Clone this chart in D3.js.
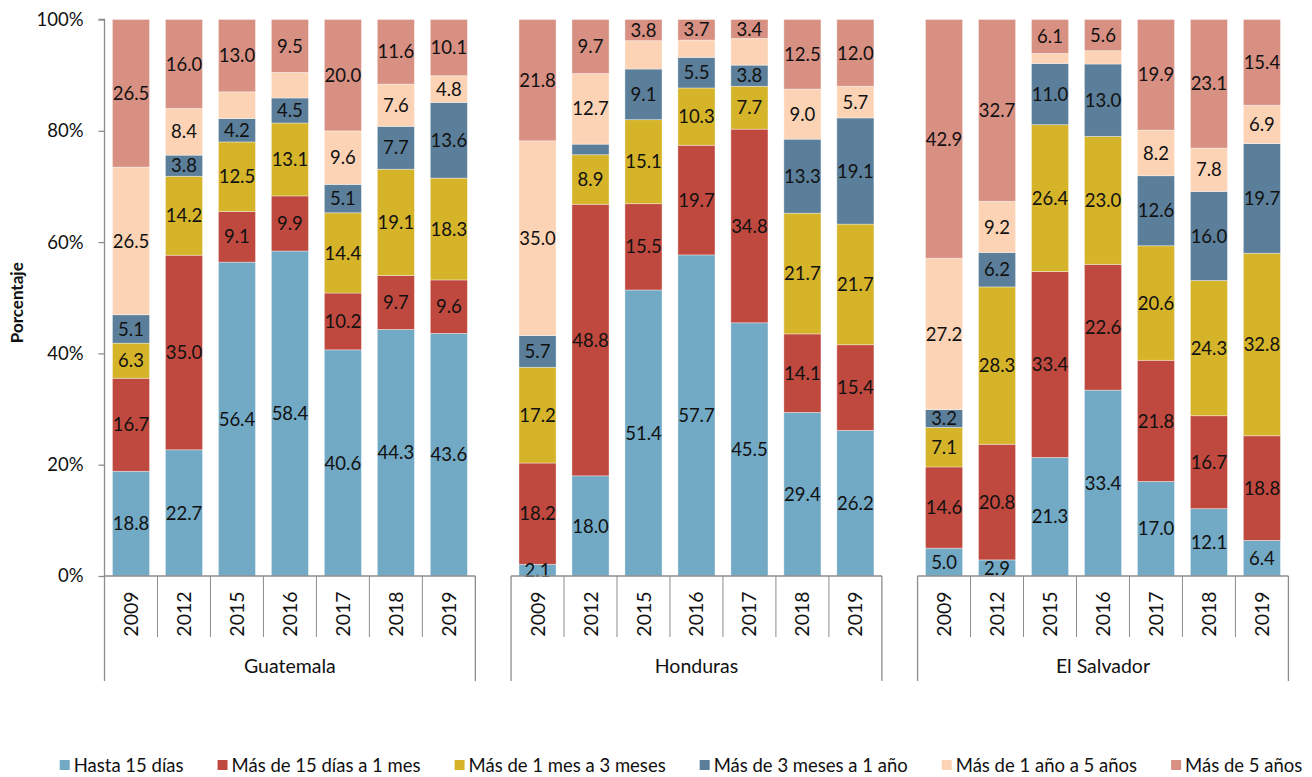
<!DOCTYPE html>
<html>
<head>
<meta charset="utf-8">
<script src="https://cdn.jsdelivr.net/npm/d3@7"></script>
<style>
  html, body { margin: 0; padding: 0; background: #fff; }
  svg { display: block; font-family: Lato, "Open Sans", sans-serif; }
</style>
</head>
<body>
<svg id="chart" width="1312" height="777"></svg>
<script>
// ---- DATA ----
const countries = ["Guatemala", "Honduras", "El Salvador"];
const years = ["2009", "2012", "2015", "2016", "2017", "2018", "2019"];
const seriesNames = ["Hasta 15 días", "Más de 15 días a 1 mes", "Más de 1 mes a 3 meses",
                     "Más de 3 meses a 1 año", "Más de 1 año a 5 años", "Más de 5 años"];
const seriesColors = ["#72a9c5", "#c0493f", "#d5b42a", "#5b7f9a", "#fcd4b5", "#d89083"];
const yTicks = [0, 0.2, 0.4, 0.6, 0.8, 1.0];

// values per series: [Guatemala[], Honduras[], El Salvador[]] across years
const hasta15dias = [
  [18.8, 22.7, 56.4, 58.4, 40.6, 44.3, 43.6],
  [2.1, 18.0, 51.4, 57.7, 45.5, 29.4, 26.2],
  [5.0, 2.9, 21.3, 33.4, 17.0, 12.1, 6.4]
];
const de15diasA1mes = [
  [16.7, 35.0, 9.1, 9.9, 10.2, 9.7, 9.6],
  [18.2, 48.8, 15.5, 19.7, 34.8, 14.1, 15.4],
  [14.6, 20.8, 33.4, 22.6, 21.8, 16.7, 18.8]
];
const de1A3meses = [
  [6.3, 14.2, 12.5, 13.1, 14.4, 19.1, 18.3],
  [17.2, 8.9, 15.1, 10.3, 7.7, 21.7, 21.7],
  [7.1, 28.3, 26.4, 23.0, 20.6, 24.3, 32.8]
];
const de3mesesA1anio = [
  [5.1, 3.8, 4.2, 4.5, 5.1, 7.7, 13.6],
  [5.7, 1.9, 9.1, 5.5, 3.8, 13.3, 19.1],
  [3.2, 6.2, 11.0, 13.0, 12.6, 16.0, 19.7]
];
const de1A5anios = [
  [26.5, 8.4, 4.8, 4.6, 9.6, 7.6, 4.8],
  [35.0, 12.7, 5.1, 3.1, 4.8, 9.0, 5.7],
  [27.2, 9.2, 1.8, 2.4, 8.2, 7.8, 6.9]
];
const masDe5anios = [
  [26.5, 16.0, 13.0, 9.5, 20.0, 11.6, 10.1],
  [21.8, 9.7, 3.8, 3.7, 3.4, 12.5, 12.0],
  [42.9, 32.7, 6.1, 5.6, 19.9, 23.1, 15.4]
];
// segments shown without a data label: [country, year, series index]
const unlabeled = [
  ["Guatemala", "2015", 4], ["Guatemala", "2016", 4],
  ["Honduras", "2012", 3], ["Honduras", "2015", 4], ["Honduras", "2016", 4], ["Honduras", "2017", 4],
  ["El Salvador", "2015", 4], ["El Salvador", "2016", 4]
];

// ---- BUILD TABLE ----
const seriesArrays = [hasta15dias, de15diasA1mes, de1A3meses, de3mesesA1anio, de1A5anios, masDe5anios];
const rows = [];
countries.forEach((c, ci) => {
  years.forEach((y, yi) => {
    const r = { country: c, year: y };
    seriesNames.forEach((s, si) => { r[s] = seriesArrays[si][ci][yi]; });
    rows.push(r);
  });
});
const isUnlabeled = (c, y, si) => unlabeled.some(u => u[0] === c && u[1] === y && u[2] === si);

// ---- LAYOUT ----
const svg = d3.select("#chart");
const axisColor = "#8c8c8c";
const textColor = "#111";
const y0 = 576, yTop = 19.5;

const x0 = d3.scaleBand().domain(countries).range([104.5, 1288.4]).paddingInner(0.0878).paddingOuter(0);
const x1 = d3.scaleBand().domain(years).range([0, x0.bandwidth()]).paddingInner(0.3).paddingOuter(0.15);
const y = d3.scaleLinear().domain([0, 1]).range([y0, yTop]);

const stack = d3.stack().keys(seriesNames).offset(d3.stackOffsetExpand);
const stacked = stack(rows);

// bars
const gBars = svg.append("g");
stacked.forEach((layer, si) => {
  gBars.selectAll(null).data(layer).enter().append("rect")
    .attr("x", d => x0(d.data.country) + x1(d.data.year))
    .attr("width", x1.bandwidth())
    .attr("y", d => y(d[1]))
    .attr("height", d => y(d[0]) - y(d[1]))
    .attr("fill", seriesColors[si])
    .attr("stroke", "#ffffff")
    .attr("stroke-opacity", 0.45)
    .attr("stroke-width", 0.8);
});

// data labels
const gLabels = svg.append("g");
stacked.forEach((layer, si) => {
  gLabels.selectAll(null)
    .data(layer.filter(d => !isUnlabeled(d.data.country, d.data.year, si)))
    .enter().append("text")
    .attr("x", d => x0(d.data.country) + x1(d.data.year) + x1.bandwidth() / 2)
    .attr("y", d => (y(d[0]) + y(d[1])) / 2)
    .attr("dy", "0.36em")
    .attr("text-anchor", "middle")
    .attr("font-size", 18.5)
    .attr("fill", textColor)
    .text(d => d.data[seriesNames[si]].toFixed(1));
});

// y axis
const yAxis = d3.axisLeft(y).tickValues(yTicks).tickFormat(d3.format(".0%")).tickSize(6).tickPadding(15);
const gy = svg.append("g").attr("transform", "translate(104.5,0)").call(yAxis);
gy.select(".domain").attr("stroke", axisColor).attr("stroke-width", 1.3).attr("d", `M-6,${yTop}H0V${y0}`);
gy.selectAll(".tick line").attr("stroke", axisColor).attr("stroke-width", 1.3);
gy.selectAll(".tick text").attr("font-size", 18.5).attr("fill", textColor).attr("font-family", "Lato, 'Open Sans', sans-serif");

// y axis title
svg.append("text")
  .attr("transform", `translate(23,${(y0 + yTop) / 2 + 5}) rotate(-90)`)
  .attr("text-anchor", "middle")
  .attr("font-size", 17)
  .attr("font-weight", "bold")
  .attr("fill", textColor)
  .text("Porcentaje");

// x axes per country
countries.forEach(c => {
  const gx = svg.append("g").attr("transform", `translate(${x0(c)},${y0})`);
  const w = x0.bandwidth();
  const step = x1.step();
  gx.append("line").attr("x1", 0).attr("x2", w).attr("y1", 0).attr("y2", 0)
    .attr("stroke", axisColor).attr("stroke-width", 1.3);
  // category boundaries
  years.forEach((yr, i) => {
    if (i === 0) return;
    const bx = x1(yr) - step * x1.paddingInner() / 2;
    gx.append("line").attr("x1", bx).attr("x2", bx).attr("y1", 0).attr("y2", 61)
      .attr("stroke", axisColor).attr("stroke-width", 1);
  });
  // group boundaries
  [0, w].forEach(bx => {
    gx.append("line").attr("x1", bx).attr("x2", bx).attr("y1", 0).attr("y2", 105)
      .attr("stroke", axisColor).attr("stroke-width", 1.3);
  });
  // year labels
  years.forEach(yr => {
    gx.append("text")
      .attr("transform", `translate(${x1(yr) + x1.bandwidth() / 2},38) rotate(-90)`)
      .attr("text-anchor", "middle")
      .attr("dy", "0.36em")
      .attr("font-size", 19.5)
      .attr("fill", textColor)
      .text(yr);
  });
  // group label
  gx.append("text")
    .attr("x", w / 2).attr("y", 90)
    .attr("dy", "0.36em")
    .attr("text-anchor", "middle")
    .attr("font-size", 19.5)
    .attr("fill", textColor)
    .text(c);
});

// legend
const gLeg = svg.append("g").attr("transform", "translate(0,765)");
const items = gLeg.selectAll(null).data(seriesNames).enter().append("g");
items.append("rect").attr("x", 0).attr("y", -5).attr("width", 10).attr("height", 10)
  .attr("fill", (d, i) => seriesColors[i]);
items.append("text").attr("x", 14).attr("dy", "0.36em").attr("font-size", 18.5)
  .attr("fill", textColor).text(d => d);
let widths = [];
items.each(function () { widths.push(this.querySelector("text").getComputedTextLength()); });
const gap = 34;
const total = d3.sum(widths) + widths.length * 14 + (widths.length - 1) * gap;
let cx = 681 - total / 2;
items.each(function (d, i) {
  d3.select(this).attr("transform", `translate(${cx},0)`);
  cx += 14 + widths[i] + gap;
});
</script>
</body>
</html>
